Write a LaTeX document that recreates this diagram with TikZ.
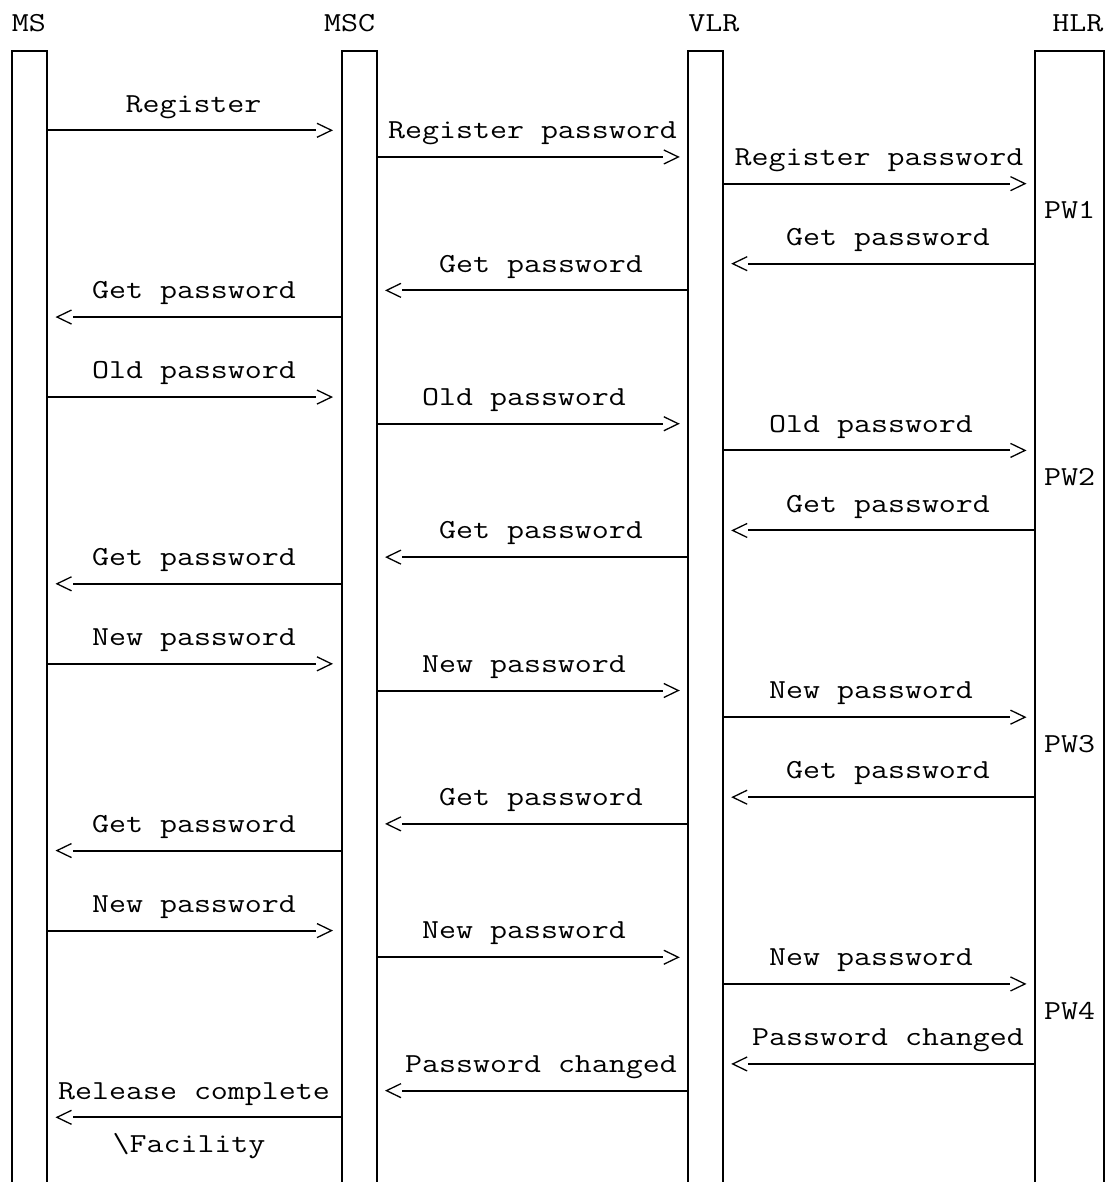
\documentclass[tikz,border=0pt]{standalone}
\usepackage{fontspec}
\setmonofont{Latin Modern Mono}[FakeStretch=1.2]
\usetikzlibrary{calc}
\newcommand\msgR[3]{%
  \pgfmathsetmacro\yy{23.6+26.676*#1}%
  \draw[msgline] (#2.east |- 0,\yy) -- ($(#3.west |- 0,\yy)+(-25.5,0)$);
  \draw[chev] ($(#3.west |- 0,\yy)+(-24.5,-7)$) -- ($(#3.west |- 0,\yy)+(-10,0)$) -- ($(#3.west |- 0,\yy)+(-24.5,7)$);
}
\newcommand\msgL[3]{%
  \pgfmathsetmacro\yy{23.6+26.676*#1}%
  \draw[msgline] (#2.west |- 0,\yy) -- ($(#3.east |- 0,\yy)+(25.5,0)$);
  \draw[chev] ($(#3.east |- 0,\yy)+(24.5,-7)$) -- ($(#3.east |- 0,\yy)+(10,0)$) -- ($(#3.east |- 0,\yy)+(24.5,7)$);
}
\newcommand\lbl[4]{%
  \pgfmathsetmacro\yy{23.6+26.676*#1+8.4}%
  \node[txt] (#4) at (#2,\yy) {#3};
}
\begin{document}
\begin{tikzpicture}[x=1pt,y=-1pt,
  txt/.style={font=\fontsize{27.5}{27.5}\selectfont\ttfamily, inner sep=0pt, outer sep=0pt, anchor=base},
  life/.style={minimum height=1131pt, minimum width=#1, inner sep=0pt, outer sep=0pt, draw=none},
  box/.style={line width=2pt, line cap=butt},
  msgline/.style={line width=2pt},
  chev/.style={line width=1.3pt, line join=miter}]
\useasboundingbox (0,0) rectangle (1109,1182);
% lifelines
\node[life=35pt] (MS) at (29.5,616.5) {};
\node[life=35pt] (MSC) at (359,616.5) {};
\node[life=34.4pt] (VLR) at (705.5,616.5) {};
\node[life=69.3pt] (HLR) at (1069.65,616.5) {};
\foreach \n in {MS,MSC,VLR,HLR}
  \draw[box] (\n.south west) -- (\n.north west) -- (\n.north east) -- (\n.south east);
% headers
\lbl{0}{28.8}{MS}{hMS}
\lbl{0}{349.6}{MSC}{hMSC}
\lbl{0}{713.8}{VLR}{hVLR}
\lbl{0}{1077.9}{HLR}{hHLR}
% block 1
\lbl{3}{193.5}{Register}{a1}\msgR{4}{MS}{MSC}
\lbl{4}{532.5}{Register password}{a2}\msgR{5}{MSC}{VLR}
\lbl{5}{879}{Register password}{a3}\msgR{6}{VLR}{HLR}
\lbl{7}{1069.5}{PW1}{pw1}
\lbl{8}{888}{Get password}{a4}\msgL{9}{HLR}{VLR}
\lbl{9}{541}{Get password}{a5}\msgL{10}{VLR}{MSC}
\lbl{10}{194}{Get password}{a6}\msgL{11}{MSC}{MS}
% block 2
\lbl{13}{194}{Old password}{b1}\msgR{14}{MS}{MSC}
\lbl{14}{524}{Old password}{b2}\msgR{15}{MSC}{VLR}
\lbl{15}{871}{Old password}{b3}\msgR{16}{VLR}{HLR}
\lbl{17}{1069.5}{PW2}{pw2}
\lbl{18}{888}{Get password}{b4}\msgL{19}{HLR}{VLR}
\lbl{19}{541}{Get password}{b5}\msgL{20}{VLR}{MSC}
\lbl{20}{194}{Get password}{b6}\msgL{21}{MSC}{MS}
% block 3
\lbl{23}{194}{New password}{c1}\msgR{24}{MS}{MSC}
\lbl{24}{524}{New password}{c2}\msgR{25}{MSC}{VLR}
\lbl{25}{871}{New password}{c3}\msgR{26}{VLR}{HLR}
\lbl{27}{1069.5}{PW3}{pw3}
\lbl{28}{888}{Get password}{c4}\msgL{29}{HLR}{VLR}
\lbl{29}{541}{Get password}{c5}\msgL{30}{VLR}{MSC}
\lbl{30}{194}{Get password}{c6}\msgL{31}{MSC}{MS}
% block 4
\lbl{33}{194}{New password}{d1}\msgR{34}{MS}{MSC}
\lbl{34}{524}{New password}{d2}\msgR{35}{MSC}{VLR}
\lbl{35}{871}{New password}{d3}\msgR{36}{VLR}{HLR}
\lbl{37}{1069.5}{PW4}{pw4}
\lbl{38}{888}{Password changed}{d4}\msgL{39}{HLR}{VLR}
\lbl{39}{541}{Password changed}{d5}\msgL{40}{VLR}{MSC}
\lbl{40}{194}{Release complete}{d6}\msgL{41}{MSC}{MS}
\lbl{42}{189}{\textbackslash Facility}{d7}
\end{tikzpicture}
\end{document}
